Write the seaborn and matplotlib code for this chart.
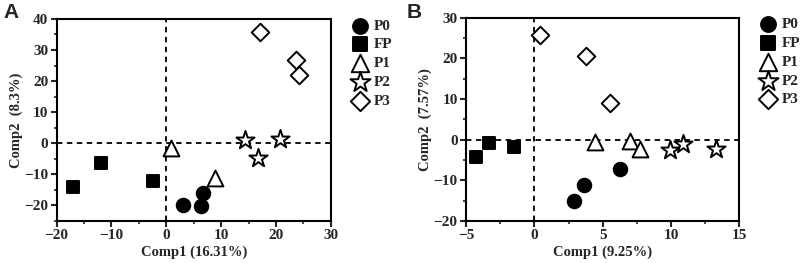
import matplotlib
matplotlib.use("Agg")
import matplotlib.pyplot as plt
import seaborn as sns
import pandas as pd
from matplotlib.ticker import MultipleLocator

# groups and markers
groups = ["P0", "FP", "P1", "P2", "P3"]
markers = {"P0": "o", "FP": "s", "P1": "^", "P2": "*", "P3": "D"}
faces = {"P0": "black", "FP": "black", "P1": "white", "P2": "white", "P3": "white"}
sizes = {"P0": 95, "FP": 85, "P1": 130, "P2": 190, "P3": 80}

# panel A scores
a_group = ["P0"] * 3 + ["FP"] * 3 + ["P1"] * 2 + ["P2"] * 3 + ["P3"] * 3
a_comp1 = [3.0, 6.4, 6.7, -17.0, -12.0, -2.5, 0.8, 8.9, 14.4, 16.8, 20.7, 17.1, 23.6, 24.2]
a_comp2 = [-20.0, -20.2, -16.1, -14.2, -6.5, -12.3, -1.5, -11.2, 0.9, -4.9, 1.3, 35.9, 26.7, 21.8]

# panel B scores
b_group = ["P0"] * 3 + ["FP"] * 3 + ["P1"] * 3 + ["P2"] * 3 + ["P3"] * 3
b_comp1 = [2.9, 3.6, 6.3, -4.3, -3.3, -1.5, 4.4, 7.0, 7.7, 9.9, 10.9, 13.3, 0.4, 3.8, 5.5]
b_comp2 = [-15.0, -11.1, -7.2, -4.4, -0.9, -1.7, -0.6, -0.4, -2.2, -2.6, -1.0, -2.4, 25.7, 20.6, 8.9]

dfa = pd.DataFrame({"group": a_group, "x": a_comp1, "y": a_comp2})
dfb = pd.DataFrame({"group": b_group, "x": b_comp1, "y": b_comp2})

sns.set_style("ticks")
plt.rcParams["font.family"] = ["Liberation Serif", "DejaVu Serif"]
plt.rcParams["font.weight"] = "bold"

fig = plt.figure(figsize=(8.09, 2.63), dpi=100)
ax_a = fig.add_axes([0.070, 0.160, 0.339, 0.768])
ax_b = fig.add_axes([0.576, 0.160, 0.338, 0.773])


def draw(ax, df, xlim, ylim, xmaj, ymaj, xlabel, ylabel, letter, lx):
    for g in groups:
        sub = df[df["group"] == g]
        sns.scatterplot(data=sub, x="x", y="y", ax=ax, marker=markers[g],
                        color=faces[g], edgecolor="black", linewidth=1.4,
                        s=sizes[g], label=g, zorder=3)
    ax.axhline(0, color="black", ls=(0, (3, 2.5)), lw=1.3, zorder=1)
    ax.axvline(0, color="black", ls=(0, (3, 2.5)), lw=1.3, zorder=1)
    ax.set_xlim(*xlim)
    ax.set_ylim(*ylim)
    ax.xaxis.set_major_locator(MultipleLocator(xmaj))
    ax.xaxis.set_minor_locator(MultipleLocator(xmaj / 2))
    ax.yaxis.set_major_locator(MultipleLocator(ymaj))
    ax.yaxis.set_minor_locator(MultipleLocator(ymaj / 2))
    ax.tick_params(which="major", direction="out", length=4, width=1.5,
                   labelsize=11, pad=2)
    ax.tick_params(which="minor", direction="out", length=2.5, width=1.2)
    for lab in ax.get_xticklabels() + ax.get_yticklabels():
        lab.set_fontweight("bold")
    for sp in ax.spines.values():
        sp.set_linewidth(1.5)
        sp.set_color("black")
    ax.set_xlabel(xlabel, fontsize=10.5, fontweight="bold", labelpad=2)
    ax.set_ylabel(ylabel, fontsize=10.5, fontweight="bold", labelpad=1)
    leg = ax.legend(loc="upper left", bbox_to_anchor=(1.05, 1.03), frameon=False,
                    fontsize=11, handletextpad=0.3, labelspacing=0.33,
                    borderaxespad=0, handlelength=1.2, markerscale=1.1)
    for t in leg.get_texts():
        t.set_fontweight("bold")
    fig.text(lx, 0.99, letter, fontsize=15, fontweight="bold",
             family="Liberation Sans", va="top", ha="left")


draw(ax_a, dfa, (-20, 30), (-25, 40), 10, 10,
     "Comp1 (16.31%)", "Comp2  (8.3%)", "A", 0.004)
draw(ax_b, dfb, (-5, 15), (-20, 30), 5, 10,
     "Comp1 (9.25%)", "Comp2  (7.57%)", "B", 0.503)

fig.savefig("out.png", dpi=100)
